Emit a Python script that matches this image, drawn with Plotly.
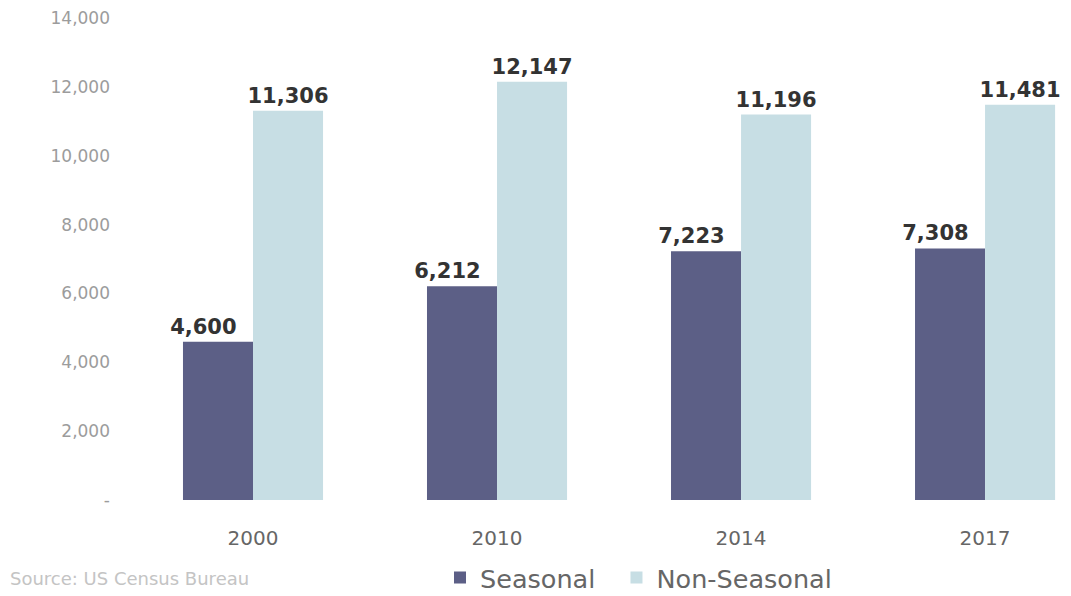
import plotly.graph_objects as go

years = ["2000", "2010", "2014", "2017"]
seasonal = [4600, 6212, 7223, 7308]
non_seasonal = [11306, 12147, 11196, 11481]
y_ticks = [0, 2000, 4000, 6000, 8000, 10000, 12000, 14000]
y_tick_labels = ["-", "2,000", "4,000", "6,000", "8,000", "10,000", "12,000", "14,000"]

FONT = "DejaVu Sans"
L, T, B = 123, 10, 104
W, H = 1071, 596
PW = W - L
PH = H - T - B
NB = "\u00a0"

fig = go.Figure()
fig.add_trace(go.Bar(
    x=years, y=seasonal, name="Seasonal" + NB * 2,
    marker=dict(color="#5c5f86", line=dict(width=0)),
    text=[f"{v:,}" + NB * 4 for v in seasonal],
    textposition="outside", constraintext="none",
    textfont=dict(family=FONT, size=21, color="#333333", weight="bold"),
    cliponaxis=False,
))
fig.add_trace(go.Bar(
    x=years, y=non_seasonal, name="Non-Seasonal",
    marker=dict(color="#c7dee4", line=dict(width=0)),
    text=[f"{v:,}" for v in non_seasonal],
    textposition="outside", constraintext="none",
    textfont=dict(family=FONT, size=21, color="#333333", weight="bold"),
    cliponaxis=False,
))

fig.update_layout(
    width=W, height=H,
    margin=dict(l=L, r=0, t=T, b=B, autoexpand=False),
    paper_bgcolor="white", plot_bgcolor="white",
    barmode="group", bargap=0.426, bargroupgap=0,
    font=dict(family=FONT, color="#777777"),
    showlegend=True,
    legend=dict(orientation="h", x=(432 - L) / PW, xanchor="left",
                y=-(570 - (T + PH)) / PH, yanchor="middle",
                font=dict(size=25.5, color="#666666", family=FONT),
                traceorder="normal"),
)
fig.update_xaxes(range=[-0.5, 3.385], showgrid=False, showline=False, zeroline=False,
                 tickfont=dict(size=20, color="#666666", family=FONT), ticks="",
                 ticklabelstandoff=24)
fig.update_yaxes(range=[0, 14000], tickvals=y_ticks, ticktext=y_tick_labels,
                 showgrid=False, zeroline=False, showline=False,
                 tickfont=dict(size=17, color="#9c9c9c", family=FONT), ticks="",
                 ticklabelstandoff=20, ticklabeloverflow="allow")

fig.add_annotation(text="Source: US Census Bureau", xref="paper", yref="paper",
                   x=-L / PW, y=-(570 - (T + PH)) / PH, xanchor="left", yanchor="middle",
                   showarrow=False, font=dict(size=18, color="#c4c4c4", family=FONT))

fig.write_html("out.html")
